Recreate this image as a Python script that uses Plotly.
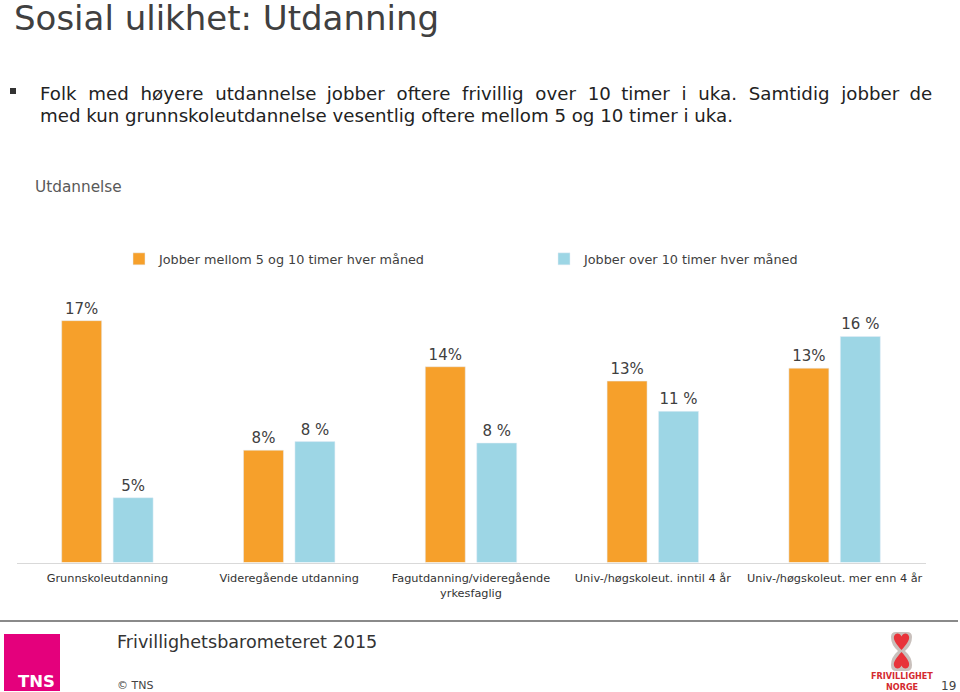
import plotly.graph_objects as go

W, H = 960, 692

categories = [
    "Grunnskoleutdanning",
    "Videregående utdanning",
    "Fagutdanning/videregående<br>yrkesfaglig",
    "Univ-/høgskoleut. inntil 4 år",
    "Univ-/høgskoleut. mer enn 4 år",
]
series_names = ["Jobber mellom 5 og 10 timer hver måned", "Jobber over 10 timer hver måned"]
values_5_10 = [16.8, 7.8, 13.6, 12.6, 13.5]
values_over_10 = [4.5, 8.4, 8.3, 10.5, 15.7]
labels_5_10 = ["17%", "8%", "14%", "13%", "13%"]
labels_over_10 = ["5%", "8 %", "8 %", "11 %", "16 %"]

ORANGE = "#F6A02B"
BLUE = "#9DD6E5"
FONT = "DejaVu Sans"


def px(x, y):
    return x / W, 1 - y / H


def path(cmds):
    out = []
    for c in cmds:
        if isinstance(c, str):
            out.append(c)
        else:
            xx, yy = px(*c)
            out.append(f"{xx:.5f},{yy:.5f}")
    return " ".join(out)


fig = go.Figure()
fig.add_trace(go.Bar(
    x=categories, y=values_5_10, name=series_names[0], marker_color=ORANGE,
    text=labels_5_10, texttemplate="%{text}", textposition="outside",
    textfont=dict(size=15, color="#404040", family=FONT), cliponaxis=False,
    constraintext="none", legend="legend", hoverinfo="skip",
))
fig.add_trace(go.Bar(
    x=categories, y=values_over_10, name=series_names[1], marker_color=BLUE,
    text=labels_over_10, texttemplate="%{text}", textposition="outside",
    textfont=dict(size=15, color="#404040", family=FONT), cliponaxis=False,
    constraintext="none", legend="legend2", hoverinfo="skip",
))

y0 = px(0, 562.5)[1]
y1 = y0 + 262 / H

shapes = []
annotations = []

# bullet square
bx0, by0 = px(10, 94)
bx1, by1 = px(16, 88)
shapes.append(dict(type="rect", xref="paper", yref="paper", x0=bx0, y0=by0, x1=bx1, y1=by1,
                   fillcolor="#333333", line_width=0))
# footer line
lx0, ly = px(0, 621)
lx1, _ = px(958, 621)
shapes.append(dict(type="line", xref="paper", yref="paper", x0=lx0, y0=ly, x1=lx1, y1=ly,
                   line=dict(color="#8a8a8a", width=2)))
# TNS logo
tx0, ty0 = px(4, 691)
tx1, ty1 = px(60, 634)
shapes.append(dict(type="rect", xref="paper", yref="paper", x0=tx0, y0=ty0, x1=tx1, y1=ty1,
                   fillcolor="#E4007C", line_width=0))
# Frivillighet Norge logo graphic
shapes.append(dict(type="path", xref="paper", yref="paper", line_width=0, fillcolor="#C9C0BC",
                   path=path(["M", (896, 632), "L", (907, 632), "Q", (912, 632), (912, 637),
                              "Q", (912, 645), (905, 651), "Q", (912, 657), (912, 665),
                              "Q", (912, 671), (907, 671), "L", (896, 671), "Q", (891, 671), (891, 665),
                              "Q", (891, 657), (898, 651), "Q", (891, 645), (891, 637),
                              "Q", (891, 632), (896, 632), "Z"])))
shapes.append(dict(type="path", xref="paper", yref="paper", line_width=0, fillcolor="#E8333A",
                   path=path(["M", (901.5, 650), "C", (897, 645), (893, 640), (894, 636.5),
                              "C", (895, 632.5), (900, 632.5), (901.5, 636.5),
                              "C", (903, 632.5), (908, 632.5), (909, 636.5),
                              "C", (910, 640), (906, 645), (901.5, 650), "Z"])))
shapes.append(dict(type="path", xref="paper", yref="paper", line_width=0, fillcolor="#E8333A",
                   path=path(["M", (901.5, 652), "C", (897, 657), (893, 662), (894, 665.5),
                              "C", (895, 669.5), (900, 669.5), (901.5, 665.5),
                              "C", (903, 669.5), (908, 669.5), (909, 665.5),
                              "C", (910, 662), (906, 657), (901.5, 652), "Z"])))


def text(x, y, s, size, color="#333333", xanchor="left", bold=False, family=FONT, yanchor="middle"):
    ax, ay = px(x, y)
    annotations.append(dict(xref="paper", yref="paper", x=ax, y=ay, text=s, showarrow=False,
                            xanchor=xanchor, yanchor=yanchor,
                            font=dict(family=family, size=size, color=color,
                                      weight="bold" if bold else "normal")))


bullet_line1 = "Folk med høyere utdannelse jobber oftere frivillig over 10 timer i uka. Samtidig jobber de"
bullet_line2 = "med kun grunnskoleutdannelse vesentlig oftere mellom 5 og 10 timer i uka."
# justified first line: widen the word spaces a little
words = bullet_line1.split(" ")
bullet_line1_just = words[0]
for i, w in enumerate(words[1:]):
    bullet_line1_just += (" \u2005" if i in (3, 8, 13) else " \u2004") + w

text(12, -4, "Sosial ulikhet: Utdanning", 34, "#404040", yanchor="top")
text(38, 93, bullet_line1_just, 18.2, "#222222")
text(38, 116, bullet_line2, 18.2, "#222222")
text(33, 187, "Utdannelse", 15.3, "#595959")
text(115, 642, "Frivillighetsbarometeret 2015", 17.6, "#333333")
text(115, 685.5, "© TNS", 11, "#444444")
text(958, 685.5, "19", 12, "#444444", xanchor="right")
text(36.5, 681.5, "TNS", 16.5, "#FFFFFF", xanchor="center", bold=True)
text(901.5, 675.5, "FRIVILLIGHET", 9, "#D42A2F", xanchor="center", bold=True, family="DejaVu Sans Condensed")
text(901.5, 686.5, "NORGE", 9, "#D42A2F", xanchor="center", bold=True, family="DejaVu Sans Condensed")

lg1x, lgy = px(159 - 40, 259)
lg2x, _ = px(584 - 40, 259)
legend_common = dict(y=lgy, xanchor="left", yanchor="middle", orientation="h",
                     font=dict(family=FONT, size=12.8, color="#404040"),
                     bgcolor="rgba(0,0,0,0)", itemclick=False, itemdoubleclick=False)

fig.update_layout(
    width=W, height=H,
    margin=dict(l=0, r=0, t=0, b=0),
    paper_bgcolor="white", plot_bgcolor="white",
    font=dict(family=FONT, color="#333333"),
    barmode="group", bargap=0.434, bargroupgap=0.223,
    showlegend=True,
    legend=dict(x=lg1x, **legend_common),
    legend2=dict(x=lg2x, **legend_common),
    xaxis=dict(domain=[16.5 / W, 925.5 / W], showline=True, linecolor="#d9d9d9", linewidth=1,
               ticks="", showgrid=False, zeroline=False, ticklabelstandoff=5,
               tickfont=dict(family=FONT, size=11.3, color="#333333"), fixedrange=True),
    yaxis=dict(domain=[y0, y1], range=[0, 18.2], visible=False, fixedrange=True),
    shapes=shapes,
    annotations=annotations,
)

fig.write_html(
    "out.html",
    config={"displayModeBar": False},
    post_script="document.body.style.margin='0';document.body.style.padding='0';"
                "document.body.style.overflow='hidden';",
)
